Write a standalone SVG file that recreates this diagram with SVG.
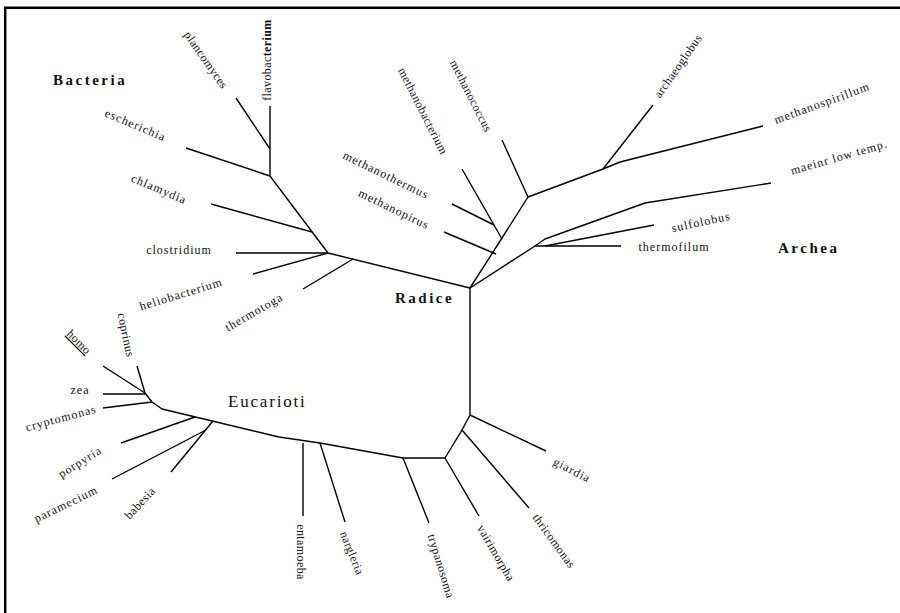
<svg xmlns="http://www.w3.org/2000/svg" width="900" height="613" viewBox="0 0 900 613">
<style>
.frame{fill:none;stroke:#000;stroke-width:2.5}
.br{fill:none;stroke:#000;stroke-width:1.4;stroke-linejoin:round;stroke-linecap:butt}
text{font-family:"Liberation Serif","Times New Roman",serif;fill:#111}
.l{font-size:12px;letter-spacing:1px}
.t{font-size:12px;letter-spacing:0.4px}
.big{font-size:15px;font-weight:bold;letter-spacing:2.5px}
.euc{font-size:17px;letter-spacing:1.8px}
</style>
<rect width="900" height="613" fill="#fff"/>
<path class="frame" d="M5.2,613 V7.8 H900"/>
<g id="connectors">
<polyline class="br" points="470,288 470,415 462,430 445,458 403,458 320,443 279,437 162,409 152,402 145,393"/>
<line class="br" x1="470" y1="415" x2="546" y2="451"/>
<line class="br" x1="462" y1="430" x2="529" y2="508"/>
<line class="br" x1="445" y1="458" x2="479" y2="516"/>
<line class="br" x1="403" y1="458" x2="429" y2="523"/>
<line class="br" x1="320" y1="443" x2="345" y2="522"/>
<line class="br" x1="303" y1="443" x2="303" y2="516"/>
<line class="br" x1="213" y1="421" x2="171" y2="472"/>
<line class="br" x1="206" y1="430" x2="112" y2="479"/>
<line class="br" x1="195" y1="417" x2="121" y2="443"/>
<line class="br" x1="152" y1="402" x2="103" y2="408"/>
<line class="br" x1="145" y1="394" x2="103" y2="394"/>
<line class="br" x1="145" y1="393" x2="103" y2="366"/>
<line class="br" x1="145" y1="393" x2="137" y2="366"/>
<polyline class="br" points="470,288 328,253 270,176 270,106"/>
<line class="br" x1="353" y1="259" x2="303" y2="289"/>
<line class="br" x1="328" y1="253" x2="236" y2="253"/>
<line class="br" x1="328" y1="253" x2="253" y2="274"/>
<line class="br" x1="312" y1="232" x2="211" y2="204"/>
<line class="br" x1="270" y1="176" x2="186" y2="148"/>
<line class="br" x1="270" y1="149" x2="236" y2="98"/>
<polyline class="br" points="470,288 502,238 528,197 603,169 620,162 763,126"/>
<line class="br" x1="528" y1="197" x2="502" y2="140"/>
<line class="br" x1="603" y1="169" x2="653" y2="105"/>
<line class="br" x1="462" y1="169" x2="502" y2="239"/>
<line class="br" x1="452" y1="204" x2="494" y2="225"/>
<line class="br" x1="444" y1="232" x2="496" y2="254"/>
<polyline class="br" points="470,288 535,246 621,246"/>
<polyline class="br" points="535,246 545,239 645,203 771,183"/>
<line class="br" x1="545" y1="246" x2="654" y2="225"/>
</g>
<g id="group-labels">
<g id="bacteria"><text class="big" x="53" y="85">Bacteria</text></g>
<g id="archea"><text class="big" x="778" y="253">Archea</text></g>
<g id="radice"><text class="big" x="395" y="303">Radice</text></g>
<g id="eucarioti"><text class="euc" x="228" y="407">Eucarioti</text></g>
</g>
<g id="n-plancomyces"><text class="t" text-anchor="middle" y="4" transform="translate(206,60) rotate(55)">plancomyces</text></g>
<g id="n-flavobacterium"><text class="t" text-anchor="middle" y="4" transform="translate(267,60) rotate(-90)">flavobac<tspan font-weight="bold">terium</tspan></text></g>
<g id="n-escherichia"><text class="l" text-anchor="middle" y="4" transform="translate(135.5,125) rotate(23)">escherichia</text></g>
<g id="n-chlamydia"><text class="l" text-anchor="middle" y="4" transform="translate(159,189) rotate(23)">chlamydia</text></g>
<g id="n-clostridium"><text class="l" text-anchor="middle" x="179" y="254">clostridium</text></g>
<g id="n-heliobacterium"><text class="l" text-anchor="middle" y="4" transform="translate(181,294) rotate(-17)">heliobacterium</text></g>
<g id="n-thermotoga"><text class="l" text-anchor="middle" y="4" transform="translate(254,312) rotate(-30)">thermotoga</text></g>
<g id="n-coprinus"><text class="t" text-anchor="middle" y="4" transform="translate(126,335) rotate(78)">coprinus</text></g>
<g id="n-homo"><text class="t" text-anchor="middle" y="4" text-decoration="underline" transform="translate(79,342) rotate(45)">homo</text></g>
<g id="n-zea"><text class="l" text-anchor="middle" x="80" y="394">zea</text></g>
<g id="n-cryptomonas"><text class="l" text-anchor="middle" y="4" transform="translate(61,418) rotate(-15)">cryptomonas</text></g>
<g id="n-porpyria"><text class="l" text-anchor="middle" y="4" transform="translate(80,462) rotate(-32)">porpyria</text></g>
<g id="n-paramecium"><text class="l" text-anchor="middle" y="4" transform="translate(66,504) rotate(-26)">paramecium</text></g>
<g id="n-babesia"><text class="t" text-anchor="middle" y="4" transform="translate(140,503) rotate(-47)">babesia</text></g>
<g id="n-entamoeba"><text class="t" text-anchor="middle" y="4" transform="translate(301,552) rotate(90)">entamoeba</text></g>
<g id="n-nargleria"><text class="t" text-anchor="middle" y="4" transform="translate(352,553) rotate(68)">nargleria</text></g>
<g id="n-trypanosoma"><text class="t" text-anchor="middle" y="4" transform="translate(441,566) rotate(73)">trypanosoma</text></g>
<g id="n-vairimorpha"><text class="t" text-anchor="middle" y="4" transform="translate(496,553) rotate(60)">vairimorpha</text></g>
<g id="n-thricomonas"><text class="t" text-anchor="middle" y="4" transform="translate(554,541) rotate(54)">thricomonas</text></g>
<g id="n-giardia"><text class="l" text-anchor="middle" y="4" transform="translate(572,470) rotate(27)">giardia</text></g>
<g id="n-methanobacterium"><text class="t" text-anchor="middle" y="4" transform="translate(423,111) rotate(63)">methanobacterium</text></g>
<g id="n-methanococcus"><text class="t" text-anchor="middle" y="4" transform="translate(471,96) rotate(63)">methanococcus</text></g>
<g id="n-methanothermus"><text class="l" text-anchor="middle" y="4" transform="translate(386,175) rotate(26)">methanothermus</text></g>
<g id="n-methanopirus"><text class="l" text-anchor="middle" y="4" transform="translate(394,209) rotate(26)">methanopirus</text></g>
<g id="n-archaeoglobus"><text class="t" text-anchor="middle" y="4" transform="translate(678,66) rotate(-55)">archaeoglobus</text></g>
<g id="n-methanospirillum"><text class="l" text-anchor="middle" y="4" transform="translate(822,103) rotate(-20)">methanospirillum</text></g>
<g id="n-maeinr"><text class="l" text-anchor="middle" y="4" transform="translate(839,157) rotate(-16)">maeinr low temp.</text></g>
<g id="n-sulfolobus"><text class="l" text-anchor="middle" y="4" transform="translate(701,222) rotate(-12)">sulfolobus</text></g>
<g id="n-thermofilum"><text class="l" text-anchor="middle" x="674" y="251">thermofilum</text></g>
</svg>
